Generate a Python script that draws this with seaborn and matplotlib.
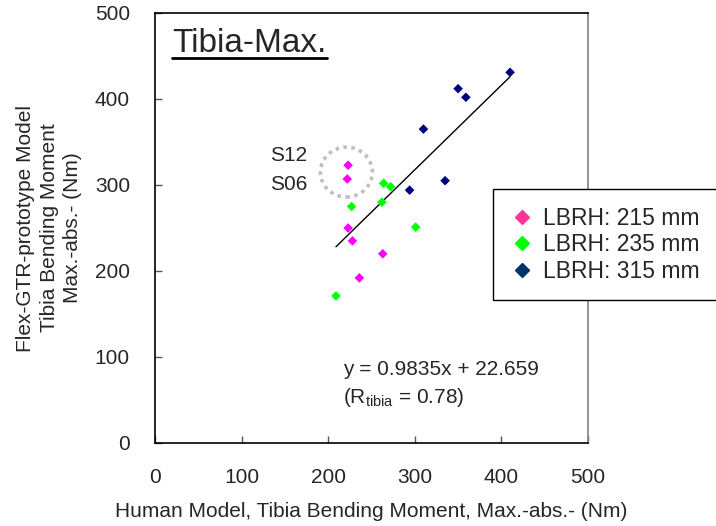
import matplotlib
matplotlib.use("Agg")
import matplotlib.pyplot as plt
from matplotlib.lines import Line2D
from matplotlib.patches import Ellipse
import seaborn as sns
import pandas as pd
import numpy as np

# Tibia bending moment, max-abs (Nm): human model (x) vs Flex-GTR prototype (y)
lbrh_215_x = [223, 222, 223, 228, 263, 236]
lbrh_215_y = [323, 307, 250, 235, 220, 192]
lbrh_235_x = [264, 272, 262, 227, 301, 209]
lbrh_235_y = [302, 298, 280, 275, 251, 171]
lbrh_315_x = [410, 350, 359, 310, 335, 294]
lbrh_315_y = [431, 412, 402, 365, 305, 294]

group_labels = ["LBRH: 215 mm", "LBRH: 235 mm", "LBRH: 315 mm"]
point_colors = ["#FF00FF", "#00FF00", "#000080"]
legend_colors = ["#FF3399", "#00FF00", "#003366"]

# linear fit of all cases
fit_slope = 0.9835
fit_intercept = 22.659
r_tibia = 0.78

axis_ticks = [0, 100, 200, 300, 400, 500]
highlight_labels = ["S12", "S06"]

df = pd.DataFrame({
    "human": lbrh_215_x + lbrh_235_x + lbrh_315_x,
    "flex": lbrh_215_y + lbrh_235_y + lbrh_315_y,
    "group": [group_labels[0]] * len(lbrh_215_x)
    + [group_labels[1]] * len(lbrh_235_x)
    + [group_labels[2]] * len(lbrh_315_x),
})

sns.set_style("white")
plt.rcParams["font.family"] = ["Liberation Sans", "DejaVu Sans"]
plt.rcParams["mathtext.fontset"] = "custom"
plt.rcParams["mathtext.rm"] = "Liberation Sans"
plt.rcParams["mathtext.it"] = "Liberation Sans:italic"

W, H = 716, 526
fig = plt.figure(figsize=(W / 100, H / 100), dpi=100)
fig.patch.set_facecolor("white")
ax = fig.add_axes([155 / W, 1 - 443 / H, (588 - 155) / W, (443 - 13) / H])

# regression line across the x range of the data
fx = np.array([df["human"].min(), df["human"].max()], dtype=float)
ax.plot(fx, fit_slope * fx + fit_intercept, color="black", lw=1.0, zorder=2)

sns.scatterplot(
    data=df, x="human", y="flex", hue="group",
    palette=dict(zip(group_labels, point_colors)),
    marker="D", s=24, linewidth=0, legend=False, ax=ax, zorder=3,
)

# dotted ring around the two highlighted subjects
s12 = (lbrh_215_x[0], lbrh_215_y[0])
s06 = (lbrh_215_x[1], lbrh_215_y[1])
cx = (s12[0] + s06[0]) / 2 - 1.5
cy = (s12[1] + s06[1]) / 2
ax.add_patch(Ellipse((cx, cy), width=60, height=58, fill=False,
                     edgecolor="#C0C0C0", lw=2.6, linestyle=(0, (1.0, 1.2)),
                     zorder=1))
ax.text(176, 334, highlight_labels[0], fontsize=15, ha="right", va="center")
ax.text(176, 300, highlight_labels[1], fontsize=15, ha="right", va="center")

# fit equation
ax.text(217, 85, f"y = {fit_slope}x + {fit_intercept}", fontsize=15,
        ha="left", va="center")
ax.text(217, 53, r"(R$_{\mathrm{tibia}}$ = " + f"{r_tibia})", fontsize=15,
        ha="left", va="center")

ax.set_xlim(axis_ticks[0], axis_ticks[-1])
ax.set_ylim(axis_ticks[0], axis_ticks[-1])
ax.set_xticks(axis_ticks)
ax.set_yticks(axis_ticks)
ax.tick_params(direction="in", length=5, width=1, color="#555555", pad=18,
               labelsize=15, bottom=True, left=True, top=False, right=False)

for side, sp in ax.spines.items():
    sp.set_visible(True)
    sp.set_linewidth(1.2)
    sp.set_color("black")
ax.spines["right"].set_color("#808080")

ax.set_xlabel("Human Model, Tibia Bending Moment, Max.-abs.- (Nm)",
              fontsize=15, labelpad=11)
ax.set_ylabel("Flex-GTR-prototype Model\nTibia Bending Moment\nMax.-abs.- (Nm)",
              fontsize=15, labelpad=9, linespacing=1.3)

# underlined panel title
title = ax.text(20, 455, "Tibia-Max.", fontsize=24, ha="left", va="baseline")

handles = [Line2D([], [], marker="D", color=c, linestyle="", markersize=7.6)
           for c in legend_colors]
leg = fig.legend(handles, group_labels, loc="upper left",
                 bbox_to_anchor=(493 / W, 1 - 189 / H),
                 bbox_transform=fig.transFigure, frameon=True, fancybox=False,
                 edgecolor="black", framealpha=1, borderpad=0.77,
                 handlelength=1.0, handletextpad=0.42, labelspacing=0.15,
                 fontsize=16.5, borderaxespad=0)
leg.get_frame().set_linewidth(1.0)

fig.canvas.draw()
bb = title.get_window_extent(renderer=fig.canvas.get_renderer())
fig.add_artist(Line2D([bb.x0 / W, bb.x1 / W], [(bb.y0 + 1) / H] * 2,
                      color="black", lw=2.0, transform=fig.transFigure))

fig.savefig("out.png", dpi=100)
